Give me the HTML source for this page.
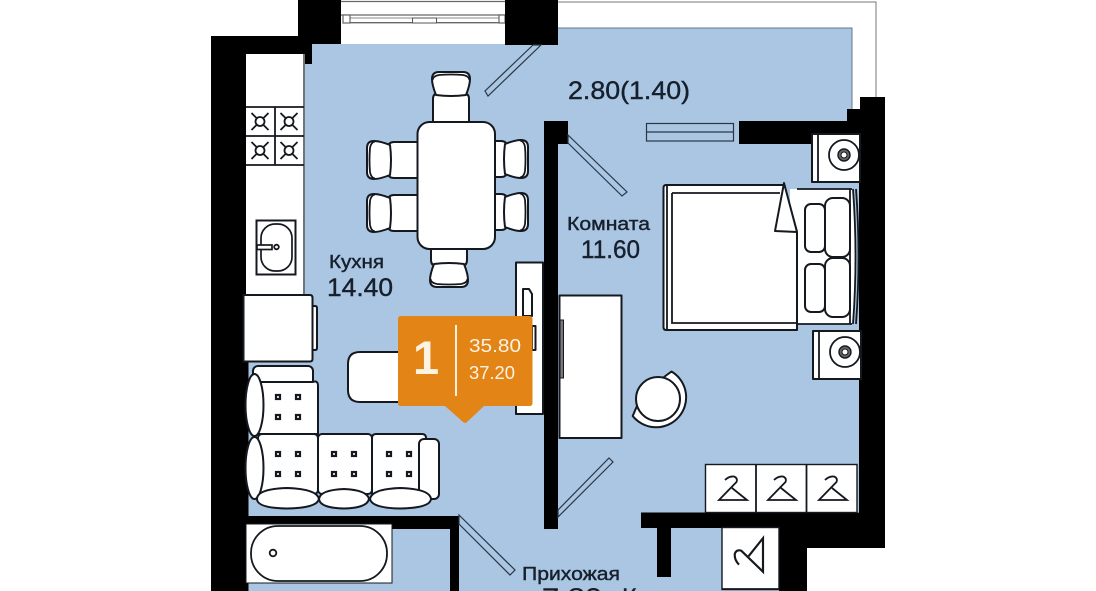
<!DOCTYPE html>
<html><head><meta charset="utf-8"><style>
html,body{margin:0;padding:0;background:#fff;width:1096px;height:591px;overflow:hidden}
svg{display:block}
text{font-family:"Liberation Sans",sans-serif;fill:#16202c;stroke:#16202c;stroke-width:.4}
.o{fill:#fff;stroke:#14181f;stroke-width:2;stroke-linejoin:round}
.t{fill:none;stroke:#14181f;stroke-width:1.8}
.d{fill:#aac6e2;stroke:#2a3646;stroke-width:1.2}
.k{fill:#000}
</style></head><body>
<svg width="1096" height="591" viewBox="0 0 1096 591" xmlns="http://www.w3.org/2000/svg">
<defs>
<g id="chair">
<path class="o" d="M-18 30V6Q-18 0 -12 0H12Q18 0 18 6V30Z"/>
<path class="o" d="M-15 2Q-19 -8 -19 -14Q-19 -21 -12 -21H12Q19 -21 19 -14Q19 -8 15 2Q0 4 -15 2Z"/>
<path class="t" d="M-18.500 -13Q-18 -17 -12 -18Q0 -19 12 -18Q18 -17 18.500 -13"/>
</g>
<g id="burner"><circle class="t" r="4.500"/><path class="t" d="M-8.500 -8.500L-3 -3M8.500 -8.500L3 -3M-8.500 8.500L-3 3M8.500 8.500L3 3"/></g>
<g id="tuft"><rect x="-2" y="-2" width="4" height="4" fill="none" stroke="#14181f" stroke-width="2.200"/></g>
<g id="tufts"><use href="#tuft" x="0" y="0"/><use href="#tuft" x="20" y="0"/><use href="#tuft" x="0" y="20"/><use href="#tuft" x="20" y="20"/></g>
<g id="hanger"><path class="t" d="M-8 -12Q-4 -16 1 -15.500Q5 -14 3.500 -10L-14 8H14L-1 -4"/></g>
<g id="stand"><rect class="o" x="0" y="0" width="48" height="48"/><path class="t" d="M6 0V48"/><circle class="t" cx="32" cy="21" r="15"/><circle cx="32" cy="21" r="6" fill="#666" stroke="#14181f" stroke-width="1.400"/><circle cx="32" cy="21" r="3" fill="#fff" stroke="#14181f"/></g>
</defs>

<!-- blue floor -->
<path fill="#aac6e2" d="M305 64H312V44H505V45H558V28H852V109H860V512H779V591H248V361H305Z"/>
<path fill="none" stroke="#66788c" stroke-width="1" d="M558 28H852V109"/>
<path fill="none" stroke="#777" stroke-width="1" d="M558 2H876V98"/>

<!-- balcony glazing -->
<path fill="none" stroke="#666" stroke-width="1.300" d="M341 1.500H505M341 15H505M350 22.700H499"/>
<path fill="none" stroke="#888" stroke-width="1" d="M350 18H499"/>
<rect x="343" y="15" width="7" height="8" fill="#fff" stroke="#666" stroke-width="1.200"/>
<rect x="499" y="15" width="6" height="8" fill="#fff" stroke="#666" stroke-width="1.200"/>
<rect x="412.500" y="18" width="24" height="5" fill="#fff" stroke="#555" stroke-width="1"/>

<!-- walls -->
<path class="k" d="M298 0H341V44H312V64H305V54H246V591H211V36H298Z"/>
<rect class="k" x="245" y="361" width="3.500" height="230"/>
<rect class="k" x="505" y="0" width="53" height="45"/>
<path class="k" d="M860 97H885V548H807V591H779V528H671V577H657V528H641V512.500H859V144H739V121H847V109H860Z"/>
<path class="k" d="M544 121H568V144H558V529H544Z"/>
<path class="k" d="M246 516H459V591H450V529H246Z"/>

<!-- doors / window -->
<path class="d" d="M533 45L485 91L488 96L541 45Z"/>
<path class="d" d="M568 135L627 192L622 196L568 143Z"/>
<path class="d" d="M609 458L613 462L558 517V510Z"/>
<path class="d" d="M459 515L515 570L510 575L459 524Z"/>
<g class="d"><rect x="646.500" y="123.500" width="87" height="17.500"/><path d="M646.500 132H733.500"/></g>

<!-- kitchen -->
<rect x="246" y="54" width="58" height="242" fill="#fff"/>
<path fill="none" stroke="#14181f" stroke-width="1.200" d="M304 54V296"/>
<path class="t" d="M246 107H304M246 136H304M246 165H304M275 107V165"/>
<use href="#burner" x="260" y="121.500"/><use href="#burner" x="289" y="121.500"/>
<use href="#burner" x="260" y="150.500"/><use href="#burner" x="289" y="150.500"/>
<rect x="256.500" y="220.500" width="39" height="54" fill="#fff" stroke="#14181f" stroke-width="2"/>
<rect x="261" y="224" width="31" height="47" rx="14" fill="#fff" stroke="#14181f" stroke-width="1.700"/>
<rect x="257" y="245" width="15" height="4.500" fill="#fff" stroke="#14181f" stroke-width="1.700"/>
<circle class="t" cx="276.500" cy="247" r="2.300"/>
<path class="o" d="M312 306H315Q317 306 317 308V348Q317 350 315 350H312Z"/>
<path class="o" d="M243.500 295H310Q312.500 295 312.500 298V359Q312.500 361.500 310 361.500H243.500Z"/>

<!-- dining -->
<use href="#chair" transform="translate(451 93)"/>
<use href="#chair" transform="translate(449 266) rotate(180)"/>
<use href="#chair" transform="translate(388 160) rotate(-90)"/>
<use href="#chair" transform="translate(388 213) rotate(-90)"/>
<use href="#chair" transform="translate(507 159) rotate(90)"/>
<use href="#chair" transform="translate(507 212) rotate(90)"/>
<rect x="417.500" y="122" width="77.500" height="127" rx="12" class="o"/>

<!-- desk / tv unit -->
<rect class="o" x="516" y="262.500" width="27" height="151.500"/>
<path class="o" d="M523 289H529L532 294V316H523Z"/>
<rect class="o" x="532" y="326" width="3.500" height="24"/>
<path class="o" d="M410 352H360Q348 352 348 364V390Q348 402 360 402H410Z"/>

<!-- sofa -->
<rect class="o" x="253" y="366" width="60" height="20" rx="5"/>
<path class="o" d="M258 382H313Q318 380 318 386V434H258Z"/>
<rect class="o" x="258" y="434" width="60" height="60" rx="4"/>
<rect class="o" x="318" y="434" width="54" height="60" rx="4"/>
<path class="o" d="M372 438Q372 434 376 434H422Q426 434 426 438V494H372Z"/>
<rect class="o" x="419" y="439" width="20" height="60" rx="5"/>
<ellipse class="o" cx="254.500" cy="405" rx="9" ry="31"/>
<ellipse class="o" cx="254.500" cy="468" rx="9" ry="31"/>
<path class="o" d="M257 499Q257 489 287 488Q317 489 319 499Q317 508 287 508.500Q257 508 257 499Z"/>
<path class="o" d="M319 499Q320 490 344 489Q367 490 369 499Q367 508 344 508.500Q320 508 319 499Z"/>
<path class="o" d="M370 499Q372 489 400 488Q430 489 431 499Q430 508 400 508.500Q372 508 370 499Z"/>
<use href="#tufts" x="278" y="397"/>
<use href="#tufts" x="278" y="454"/>
<use href="#tufts" x="334" y="454"/>
<use href="#tufts" x="389" y="454"/>

<!-- bath -->
<rect x="246" y="524" width="146" height="59" fill="#fff" stroke="#14181f" stroke-width="1"/>
<rect x="251" y="526" width="136" height="55" rx="27" fill="#fff" stroke="#14181f" stroke-width="1.800"/>
<circle cx="273" cy="553" r="3.300" fill="#fff" stroke="#14181f" stroke-width="1.800"/>

<!-- bedroom -->
<use href="#stand" x="812" y="134"/>
<use href="#stand" x="813" y="331"/>
<path fill="#fff" d="M790 189H852Q860 257 852 324H790Z"/>
<path class="t" d="M797 189H852M797 324H852" stroke-width="2"/>
<path class="t" d="M850 189V324M853 189Q858 257 853 324M856 189Q861 257 856 324"/>
<rect class="o" x="805" y="204" width="20" height="48" rx="6"/>
<rect class="o" x="805" y="264" width="20" height="48" rx="6"/>
<rect class="o" x="825" y="198" width="25" height="59" rx="8"/>
<rect class="o" x="825" y="258" width="25" height="59" rx="8"/>
<path class="o" d="M797 232V330H666Q663.500 330 663.500 327V188Q663.500 185 666 185H784Z"/>
<path class="t" d="M667 186V329M672 193V323H796M672 193H780"/>
<path class="o" d="M784 183L775 231L797 232Z"/>

<!-- wardrobe & armchair -->
<rect class="o" x="559.500" y="295.500" width="62" height="142.500"/>
<rect x="560" y="320" width="3.500" height="58" fill="#777" stroke="#14181f" stroke-width="1"/>
<path class="o" d="M671.500 371.500A30 30 0 1 1 632.700 416L637 406L664 377Z"/>
<circle class="o" cx="658" cy="399" r="22"/>

<!-- wardrobes hangers -->
<rect x="705.500" y="464.500" width="151.500" height="48" fill="#fff" stroke="#14181f" stroke-width="1.400"/>
<path class="t" d="M756 465V512M806.500 465V512"/>
<use href="#hanger" x="733" y="492"/>
<use href="#hanger" x="782" y="492"/>
<use href="#hanger" x="833" y="492"/>
<rect x="722" y="527.500" width="57" height="62" fill="#fff" stroke="#14181f" stroke-width="1.400"/>
<path class="t" d="M722 589H779"/>
<use href="#hanger" transform="translate(753.400 555) rotate(-90) scale(1.200)"/>

<!-- labels -->
<text x="568" y="99" font-size="25" textLength="122" lengthAdjust="spacingAndGlyphs">2.80(1.40)</text>
<text x="567" y="230" font-size="18" textLength="83" lengthAdjust="spacingAndGlyphs">Комната</text>
<text x="581" y="258" font-size="25" textLength="59" lengthAdjust="spacingAndGlyphs">11.60</text>
<text x="329" y="268" font-size="18" textLength="55" lengthAdjust="spacingAndGlyphs">Кухня</text>
<text x="327" y="296" font-size="25" textLength="66" lengthAdjust="spacingAndGlyphs">14.40</text>
<text x="522" y="580" font-size="18" textLength="98" lengthAdjust="spacingAndGlyphs">Прихожая</text>
<text x="542" y="606" font-size="25" textLength="60" lengthAdjust="spacingAndGlyphs">7.80</text>
<text x="622" y="606" font-size="25">К</text>

<!-- badge -->
<path fill="#e38417" d="M401 316H529.500Q532.500 316 532.500 319V403Q532.500 406 529.500 406H484L467 422Q465 424 463 422L445 406H401Q398 406 398 403V319Q398 316 401 316Z"/>
<rect x="455" y="325" width="2" height="71" fill="#fdf0dd"/>
<text x="413" y="374" font-size="47" font-weight="bold" style="fill:#fdf3e3;stroke:none">1</text>
<text x="469" y="352" font-size="18" textLength="52" lengthAdjust="spacingAndGlyphs" style="fill:#fdf3e3;stroke:none">35.80</text>
<text x="469" y="379" font-size="18" textLength="46" lengthAdjust="spacingAndGlyphs" style="fill:#fdf3e3;stroke:none">37.20</text>
</svg>
</body></html>
